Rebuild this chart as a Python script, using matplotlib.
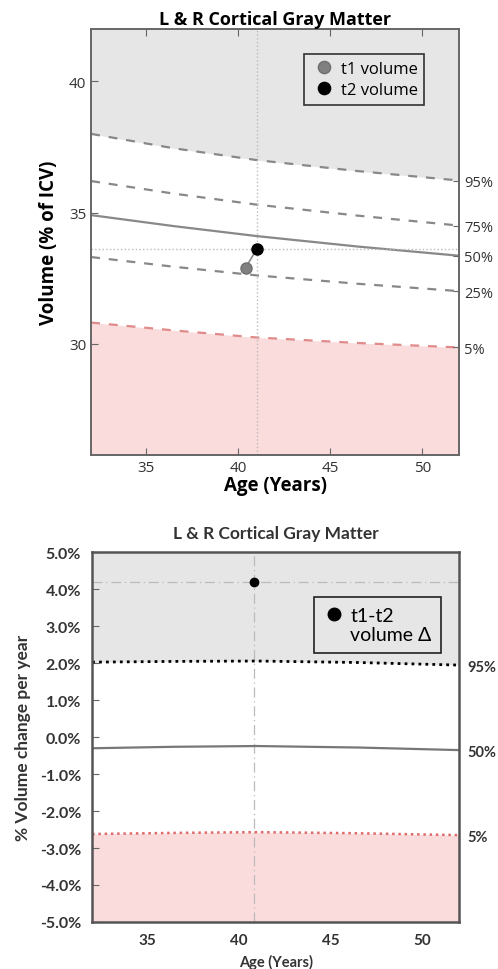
import matplotlib.pyplot as plt
import numpy as np

ages = [32, 36.5, 41, 46.5, 52]

# top panel: cortical gray matter volume (% of ICV)
vol_p95 = [38.0, 37.45, 37.0, 36.58, 36.22]
vol_p75 = [36.2, 35.72, 35.3, 34.88, 34.5]
vol_p50 = [34.9, 34.48, 34.1, 33.7, 33.35]
vol_p25 = [33.3, 32.93, 32.6, 32.28, 32.0]
vol_p05 = [30.8, 30.5, 30.23, 30.02, 29.85]
vol_labels = ["95%", "75%", "50%", "25%", "5%"]

t1_age, t1_vol = 40.4, 32.9
t2_age, t2_vol = 41.0, 33.6

# bottom panel: % volume change per year
chg_p95 = [2.03, 2.05, 2.06, 2.02, 1.95]
chg_p50 = [-0.30, -0.26, -0.24, -0.28, -0.35]
chg_p05 = [-2.62, -2.59, -2.57, -2.60, -2.65]
chg_labels = ["95%", "50%", "5%"]
chg_ticks = [-5, -4, -3, -2, -1, 0, 1, 2, 3, 4, 5]

delta_age, delta_chg = 40.8, 4.2

age_ticks = [35, 40, 45, 50]

GRAY_FILL = "#e6e6e6"
PINK_FILL = "#fadcdd"
SPINE = "#666666"
TOP_FONT = "Open Sans"
BOT_FONT = "Lato"

fig = plt.figure(figsize=(4.98, 9.70), dpi=100)

# ---------------- top panel ----------------
ax1 = fig.add_axes([0.183, 0.530, 0.739, 0.439])
ylo, yhi = 25.75, 42.0
ax1.set_xlim(32, 52)
ax1.set_ylim(ylo, yhi)
ax1.fill_between(ages, vol_p95, yhi, color=GRAY_FILL, lw=0, zorder=0)
ax1.fill_between(ages, ylo, vol_p05, color=PINK_FILL, lw=0, zorder=0)
for vals in (vol_p95, vol_p75, vol_p25):
    ax1.plot(ages, vals, ls=(0, (4, 4)), color="#888888", lw=1.6)
ax1.plot(ages, vol_p50, color="#888888", lw=1.6)
ax1.plot(ages, vol_p05, ls=(0, (4, 4)), color="#e08a8a", lw=1.6)
ax1.axvline(t2_age, color="#bbbbbb", ls=":", lw=1)
ax1.axhline(t2_vol, color="#bbbbbb", ls=":", lw=1)
ax1.plot([t1_age, t2_age], [t1_vol, t2_vol], color="#888888", lw=1.2, zorder=3)
ax1.plot(t1_age, t1_vol, "o", ms=8, mfc="#808080", mec="#707070", zorder=4, label="t1 volume")
ax1.plot(t2_age, t2_vol, "o", ms=8, mfc="black", mec="black", zorder=4, label="t2 volume")

ax1.set_xticks(age_ticks)
ax1.set_xticklabels([str(a) for a in age_ticks], family=TOP_FONT)
ax1.set_yticks([30, 35, 40])
ax1.set_yticklabels(["30", "35", "40"], family=TOP_FONT)
ax1.tick_params(direction="in", top=True, labelsize=11, labelcolor="#333333",
                color=SPINE, length=5)
for sp in ax1.spines.values():
    sp.set_color(SPINE)
    sp.set_linewidth(1.4)
ax1.set_title("L & R Cortical Gray Matter", fontsize=13, fontweight="bold", pad=4,
              family=TOP_FONT)
ax1.set_xlabel("Age (Years)", fontsize=13.5, fontweight="bold", labelpad=0, family=TOP_FONT)
ax1.set_ylabel("Volume (% of ICV)", fontsize=13.5, fontweight="bold", labelpad=7,
               family=TOP_FONT)

r1 = ax1.twinx()
r1.set_ylim(ylo, yhi)
r1.set_yticks([v[-1] for v in (vol_p95, vol_p75, vol_p50, vol_p25, vol_p05)])
r1.set_yticklabels(vol_labels, family=TOP_FONT)
r1.tick_params(direction="in", labelsize=10.5, labelcolor="#333333", color=SPINE, length=4)
for sp in r1.spines.values():
    sp.set_visible(False)

leg1 = ax1.legend(loc="upper right", bbox_to_anchor=(0.905, 0.941), borderaxespad=0,
                  frameon=True, fancybox=False, edgecolor="#333333", facecolor=GRAY_FILL,
                  framealpha=1, numpoints=1, handletextpad=0.2, handlelength=1.6,
                  borderpad=0.4, labelspacing=0.3,
                  markerscale=1.1, prop={"family": TOP_FONT, "size": 12})
leg1.get_frame().set_linewidth(1.2)

# ---------------- bottom panel ----------------
ax2 = fig.add_axes([0.185, 0.0485, 0.737, 0.381])
clo, chi = -5.0, 5.0
ax2.set_xlim(32, 52)
ax2.set_ylim(clo, chi)
ax2.fill_between(ages, chg_p95, chi, color=GRAY_FILL, lw=0, zorder=0)
ax2.fill_between(ages, clo, chg_p05, color=PINK_FILL, lw=0, zorder=0)
ax2.plot(ages, chg_p95, ls=(0, (1, 1.5)), color="black", lw=2)
ax2.plot(ages, chg_p50, color="#777777", lw=1.6)
ax2.plot(ages, chg_p05, ls=(0, (1, 1.5)), color="#e06a6a", lw=1.8)
ax2.axvline(delta_age, color="#bbbbbb", ls=(0, (8, 3, 1, 3)), lw=0.9, zorder=1)
ax2.axhline(delta_chg, color="#bbbbbb", ls=(0, (8, 3, 1, 3)), lw=0.9, zorder=1)
ax2.plot(delta_age, delta_chg, "o", ms=6, color="black", zorder=4, label="t1-t2")
ax2.plot([], [], ls="none", label="volume Δ")

ax2.set_xticks(age_ticks)
ax2.set_xticklabels([str(a) for a in age_ticks], family=BOT_FONT, fontweight="bold")
ax2.set_yticks(chg_ticks)
ax2.set_yticklabels([f"{v:.1f}%" for v in chg_ticks], family=BOT_FONT, fontweight="bold")
ax2.tick_params(axis="y", direction="in", labelsize=11.5, labelcolor="#333333", color=SPINE,
                length=5, pad=8)
ax2.tick_params(axis="x", length=0, labelsize=11, labelcolor="#333333", pad=8)
for sp in ax2.spines.values():
    sp.set_color("#555555")
    sp.set_linewidth(1.8)
ax2.set_title("L & R Cortical Gray Matter", fontsize=12.5, fontweight="bold", pad=10,
              family=BOT_FONT, color="#333333")
ax2.set_xlabel("Age (Years)", fontsize=10.5, fontweight="bold", labelpad=5, family=BOT_FONT,
               color="#333333")
ax2.set_ylabel("% Volume change per year", fontsize=12.5, fontweight="bold", labelpad=6,
               family=BOT_FONT, color="#333333")

r2 = ax2.twinx()
r2.set_ylim(clo, chi)
r2.set_yticks([v[-1] for v in (chg_p95, chg_p50, chg_p05)])
r2.set_yticklabels(chg_labels, family=BOT_FONT, fontweight="bold")
r2.tick_params(length=0, pad=6, labelsize=10.5, labelcolor="#333333")
for sp in r2.spines.values():
    sp.set_visible(False)

leg2 = ax2.legend(loc="upper right", bbox_to_anchor=(0.951, 0.878), borderaxespad=0,
                  frameon=True, fancybox=False, edgecolor="#222222", facecolor=GRAY_FILL,
                  framealpha=1, numpoints=1, handletextpad=0.35, handlelength=1.0,
                  borderpad=0.5, labelspacing=0.1, markerscale=1.5,
                  prop={"family": BOT_FONT, "size": 14})
leg2.get_frame().set_linewidth(1.2)

fig.savefig("out.png", dpi=100)
